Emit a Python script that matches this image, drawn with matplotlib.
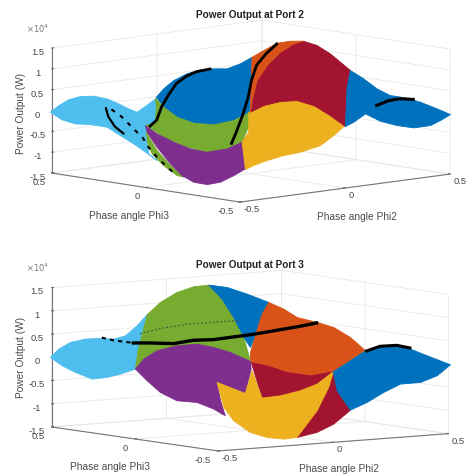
import matplotlib
matplotlib.use('Agg')
import matplotlib.pyplot as plt
from mpl_toolkits.mplot3d.art3d import Poly3DCollection

plt.rcParams['font.family'] = ['Liberation Sans', 'DejaVu Sans']

# Port 2 region outlines: phase angles Phi2 (x), Phi3 (y), power in 1e4 W (z)
askyx=[-0.504,-0.472,-0.422,-0.368,-0.304,-0.245,-0.271,-0.290,-0.296,-0.233,-0.146,-0.255,-0.328,-0.367,-0.501,-0.500,-0.501,-0.498,-0.501,-0.500,-0.499,-0.499,-0.497]
askyy=[0.506,0.497,0.501,0.499,0.499,0.494,0.403,0.329,0.277,0.304,0.342,0.216,0.143,0.152,-0.013,-0.057,-0.005,0.070,0.137,0.209,0.299,0.379,0.452]
askyz=[-0.030,0.115,0.215,0.260,0.225,0.125,0.085,0.030,-0.010,0.065,0.180,-0.035,-0.175,-0.195,-0.670,-0.800,-0.660,-0.490,-0.335,-0.185,-0.185,-0.225,-0.180]
asliverx=[-0.415,-0.500,-0.501,-0.501,-0.501,-0.501,-0.499,-0.490]
aslivery=[0.097,-0.057,-0.129,-0.200,-0.164,-0.093,-0.029,0.004]
asliverz=[-0.285,-0.560,-0.870,-1.100,-1.085,-0.895,-0.660,-0.450]
abluex=[-0.140,-0.066,0.008,0.076,0.125,0.158,0.186,0.247,0.311,-0.017,-0.098,-0.172,-0.216,-0.225,-0.194]
abluey=[0.349,0.393,0.422,0.428,0.411,0.377,0.337,0.335,0.344,-0.014,-0.015,0.008,0.065,0.144,0.250]
abluez=[0.195,0.315,0.445,0.555,0.630,0.655,0.665,0.745,0.855,-0.035,-0.140,-0.210,-0.180,-0.085,0.060]
agreenx=[-0.149,-0.194,-0.225,-0.216,-0.172,-0.098,-0.008,-0.074,-0.200,-0.277,-0.352,-0.382,-0.392,-0.378,-0.366,-0.315,-0.209]
agreeny=[0.345,0.250,0.144,0.065,0.008,-0.015,-0.001,-0.074,-0.174,-0.180,-0.157,-0.085,0.011,0.098,0.151,0.159,0.272]
agreenz=[0.180,0.060,-0.085,-0.180,-0.210,-0.140,-0.010,-0.195,-0.480,-0.585,-0.630,-0.540,-0.400,-0.270,-0.195,-0.155,0.055]
apurplex=[-0.368,-0.390,-0.392,-0.381,-0.352,-0.277,-0.200,-0.122,-0.169,-0.198,-0.344,-0.411,-0.487,-0.501,-0.500,-0.499,-0.501,-0.480,-0.412]
apurpley=[0.153,0.066,-0.025,-0.101,-0.157,-0.180,-0.174,-0.128,-0.183,-0.177,-0.352,-0.366,-0.379,-0.324,-0.252,-0.188,-0.129,-0.034,0.095]
apurplez=[-0.195,-0.320,-0.455,-0.570,-0.630,-0.585,-0.480,-0.325,-0.455,-0.480,-0.900,-1.005,-1.105,-1.190,-1.185,-1.070,-0.830,-0.510,-0.285]
ayellowx=[-0.011,0.065,0.133,0.181,0.193,0.173,0.129,0.047,-0.042,-0.124,-0.177,-0.244,-0.302,-0.348,-0.200,-0.125]
ayellowy=[0.002,0.007,-0.006,-0.040,-0.116,-0.226,-0.347,-0.385,-0.414,-0.399,-0.370,-0.355,-0.349,-0.357,-0.174,-0.125]
ayellowz=[-0.010,0.095,0.155,0.170,0.095,-0.055,-0.205,-0.340,-0.500,-0.615,-0.680,-0.765,-0.850,-0.910,-0.480,-0.325]
acrimsonx=[-0.007,0.086,0.190,0.301,0.415,0.501,0.501,0.498,0.501,0.499,0.501,0.409,0.133,0.173,0.193,0.181,0.133,0.065]
acrimsony=[-0.002,0.088,0.182,0.253,0.309,0.334,0.282,0.207,0.140,0.084,0.033,-0.052,-0.351,-0.226,-0.116,-0.040,-0.006,0.007]
acrimsonz=[-0.010,0.225,0.490,0.725,0.930,1.055,1.155,1.105,0.950,0.790,0.625,0.345,-0.205,-0.055,0.095,0.170,0.155,0.095]
aorangex=[0.311,0.379,0.459,0.498,0.501,0.501,0.415,0.301,0.190,0.086,-0.007,0.157]
aorangey=[0.344,0.358,0.376,0.349,0.282,0.334,0.309,0.253,0.182,0.088,-0.002,0.177]
aorangez=[0.855,0.960,1.070,1.110,1.155,1.055,0.930,0.725,0.490,0.225,-0.010,0.435]
arbluex=[0.501,0.500,0.496,0.492,0.499,0.500,0.498,0.500,0.454,0.405,0.327,0.247,0.245,0.270,0.181,0.133,0.409]
arbluey=[0.033,-0.039,-0.114,-0.189,-0.262,-0.340,-0.432,-0.500,-0.498,-0.500,-0.498,-0.499,-0.412,-0.305,-0.342,-0.351,-0.052]
arbluez=[0.625,0.475,0.290,0.185,0.175,0.125,0.030,-0.060,-0.175,-0.260,-0.265,-0.155,-0.110,-0.025,-0.140,-0.205,0.345]
# Port 2 black traces
atax=[-0.361,-0.300,-0.198,-0.101,-0.008,0.060,0.105,0.146]
atay=[0.133,0.166,0.254,0.326,0.387,0.409,0.407,0.381]
ataz=[-0.210,-0.130,0.060,0.225,0.400,0.515,0.590,0.645]
atbx=[-0.233,-0.155,-0.034,0.075,0.180,0.276,0.370,0.451]
atby=[-0.157,-0.096,0.003,0.098,0.198,0.278,0.331,0.367]
atbz=[-0.510,-0.325,-0.035,0.225,0.485,0.725,0.905,1.050]
atcx=[0.363,0.436,0.492,0.497]
atcy=[-0.263,-0.244,-0.243,-0.308]
atcz=[0.075,0.125,0.135,0.160]
atdx=[-0.343,-0.413,-0.479,-0.499]
atdy=[0.388,0.297,0.188,0.121]
atdz=[0.025,-0.065,-0.185,-0.285]
atex=[-0.339,-0.376,-0.423,-0.469,-0.501,-0.500,-0.499,-0.501]
atey=[0.363,0.268,0.163,0.049,-0.013,-0.057,-0.109,-0.164]
atez=[0.015,-0.070,-0.205,-0.375,-0.510,-0.720,-0.925,-1.085]

# Port 3 region outlines
bskyx=[-0.502,-0.474,-0.424,-0.356,-0.291,-0.234,-0.181,-0.133,-0.089,-0.109,-0.222,-0.357,-0.444,-0.498,-0.500,-0.498,-0.496]
bskyy=[0.507,0.495,0.495,0.498,0.498,0.497,0.500,0.496,0.497,0.499,0.369,0.197,0.167,0.173,0.260,0.362,0.445]
bskyz=[0.005,0.180,0.305,0.350,0.340,0.305,0.355,0.555,0.775,0.365,0.115,-0.140,-0.200,-0.255,-0.335,-0.245,-0.145]
bgreenx=[-0.089,-0.032,0.043,0.116,0.178,0.238,0.188,0.106,-0.001,-0.009,-0.022,-0.045,-0.098,-0.176,-0.269,-0.357,-0.222,-0.109]
bgreeny=[0.497,0.496,0.500,0.500,0.496,0.498,0.360,0.186,-0.002,0.108,0.190,0.258,0.305,0.317,0.269,0.197,0.369,0.499]
bgreenz=[0.775,1.020,1.205,1.300,1.315,0.990,0.685,0.375,-0.005,0.135,0.205,0.250,0.210,0.125,0.005,-0.140,0.115,0.365]
bbluex=[0.178,0.258,0.344,0.351,0.271,0.144,0.069,0.106,0.188,0.238]
bbluey=[0.496,0.496,0.494,0.374,0.304,0.169,0.095,0.186,0.360,0.498]
bbluez=[1.315,1.235,1.060,0.940,0.755,0.405,0.220,0.375,0.685,0.990]
borangex=[0.351,0.358,0.351,0.387,0.414,0.410,0.378,0.150,0.075,0.037,0.020,-0.001,0.044,0.144,0.271]
borangey=[0.374,0.294,0.204,0.134,0.071,-0.034,-0.169,-0.290,-0.257,-0.169,-0.072,-0.002,0.060,0.169,0.304]
borangez=[0.940,0.835,0.705,0.620,0.535,0.375,0.170,-0.135,-0.210,-0.170,-0.070,-0.005,0.140,0.405,0.755]
bpurplex=[-0.357,-0.269,-0.176,-0.098,-0.045,-0.022,-0.009,-0.001,-0.041,-0.181,-0.200,-0.282,-0.345,-0.342,-0.359,-0.411,-0.422,-0.399]
bpurpley=[0.197,0.269,0.317,0.305,0.258,0.190,0.108,-0.002,-0.061,-0.219,-0.076,-0.210,-0.325,-0.252,-0.175,-0.127,-0.042,0.069]
bpurplez=[-0.140,0.005,0.125,0.210,0.250,0.205,0.135,-0.005,-0.125,-0.515,-0.345,-0.640,-0.880,-0.775,-0.665,-0.635,-0.495,-0.310]
bcrimsonx=[-0.005,0.020,0.037,0.075,0.150,0.033,0.074,0.002,-0.073,-0.160,-0.247,-0.161]
bcrimsony=[-0.012,-0.072,-0.169,-0.257,-0.290,-0.475,-0.498,-0.497,-0.500,-0.500,-0.501,-0.292]
bcrimsonz=[-0.020,-0.070,-0.170,-0.210,-0.135,-0.405,-0.825,-1.100,-1.250,-1.325,-1.005,-0.585]
byellowx=[-0.200,-0.181,-0.044,-0.161,-0.109,-0.035,0.039,0.150,0.038,-0.071,-0.160,-0.217,-0.287,-0.360,-0.351,-0.308]
byellowy=[-0.076,-0.219,-0.070,-0.292,-0.330,-0.348,-0.346,-0.290,-0.417,-0.498,-0.500,-0.500,-0.496,-0.496,-0.384,-0.266]
byellowz=[-0.345,-0.515,-0.155,-0.585,-0.535,-0.445,-0.330,-0.135,-0.365,-0.785,-1.325,-1.340,-1.280,-1.145,-0.955,-0.745]
brbluex=[0.150,0.265,0.378,0.454,0.499,0.498,0.501,0.504,0.450,0.381,0.291,0.220,0.145,0.074,0.033]
brbluey=[-0.290,-0.234,-0.169,-0.154,-0.191,-0.273,-0.369,-0.505,-0.499,-0.495,-0.499,-0.496,-0.500,-0.498,-0.475]
brbluez=[-0.135,0.030,0.170,0.220,0.265,0.215,0.120,-0.005,-0.225,-0.345,-0.345,-0.500,-0.685,-0.825,-0.405]
# Port 3 black traces
btax=[-0.284,-0.235,-0.171]
btay=[0.497,0.496,0.464]
btaz=[0.345,0.270,0.205]
btbx=[-0.171,-0.142,-0.097,-0.034,0.018,0.082,0.146,0.227,0.313,0.381]
btby=[0.464,0.404,0.325,0.293,0.244,0.213,0.181,0.153,0.132,0.126]
btbz=[0.205,0.225,0.235,0.300,0.320,0.370,0.420,0.490,0.555,0.605]
btcx=[-0.119,-0.031,0.052,0.124,0.187]
btcy=[0.496,0.496,0.452,0.372,0.318]
btcz=[0.370,0.445,0.530,0.595,0.635]
btdx=[0.378,0.454,0.498,0.497]
btdy=[-0.178,-0.154,-0.193,-0.274]
btdz=[0.160,0.220,0.245,0.230]

phase_ticks = [-0.5, 0, 0.5]
phase_labels = ['-0.5', '0', '0.5']
power_ticks = [-1.5, -1, -0.5, 0, 0.5, 1, 1.5]
power_labels = ['-1.5', '-1', '-0.5', '0', '0.5', '1', '1.5']

BLUE, ORANGE, YELLOW, PURPLE = '#0072BD', '#D95319', '#EDB120', '#7E2F8E'
GREEN, SKY, CRIMSON = '#77AC30', '#4DBEEE', '#A2142F'
TXT = '#4a4a4a'
W, H = 469, 474

fig = plt.figure(figsize=(W / 100, H / 100), dpi=100)


def panel(left, bottom, azim, elev, aspect, zoom, regions, traces):
    ax = fig.add_axes([left / W, bottom / H, 440 / W, 440 / H], projection='3d',
                      proj_type='ortho', computed_zorder=False)
    ax.patch.set_visible(False)
    ax.view_init(elev=elev, azim=azim)
    ax.set_box_aspect(aspect, zoom=zoom)
    ax.set_xlim(-0.5, 0.5)
    ax.set_ylim(-0.5, 0.5)
    ax.set_zlim(-1.5, 1.5)
    for i, (xs, ys, zs, c) in enumerate(regions):
        poly = Poly3DCollection([list(zip(xs, ys, zs))], facecolor=c, edgecolor=c,
                                linewidth=0.6, zorder=5 + i)
        ax.add_collection3d(poly)
    for xs, ys, zs, ls, lw, col in traces:
        ax.plot(xs, ys, zs, color=col, lw=lw, ls=ls, zorder=50)
    ax.set_xticks(phase_ticks, phase_labels, ha='left')
    ax.set_yticks(phase_ticks, phase_labels, ha='right')
    ax.set_zticks(power_ticks, power_labels)
    for a in (ax.xaxis, ax.yaxis, ax.zaxis):
        a.set_pane_color((1, 1, 1, 0))
        a.pane.set_edgecolor('#e2e2e2')
        a.line.set_color('#777777')
        a.line.set_linewidth(0.8)
        a._axinfo['grid'].update(color='#e8e8e8', linewidth=0.6)
        a._axinfo['tick'].update(inward_factor=0.0, outward_factor=0.1)
    ax.tick_params(labelsize=6.8, labelcolor=TXT, colors='#666666', length=2)
    ax.tick_params(axis='x', labelsize=6.8, labelcolor=TXT, pad=-5)
    ax.tick_params(axis='y', labelsize=6.8, labelcolor=TXT, pad=-3)
    ax.tick_params(axis='z', labelsize=6.8, labelcolor=TXT, pad=-2)
    return ax


panel(25, 137, -132.9, 8.25, (286.7, 276.2, 126.3), 0.9216,
      [(askyx, askyy, askyz, SKY), (asliverx, aslivery, asliverz, GREEN),
       (abluex, abluey, abluez, BLUE), (agreenx, agreeny, agreenz, GREEN),
       (apurplex, apurpley, apurplez, PURPLE), (ayellowx, ayellowy, ayellowz, YELLOW),
       (acrimsonx, acrimsony, acrimsonz, CRIMSON), (aorangex, aorangey, aorangez, ORANGE),
       (arbluex, arbluey, arbluez, BLUE)],
      [(atax, atay, ataz, '-', 2.0, 'black'), (atbx, atby, atbz, '-', 2.0, 'black'),
       (atcx, atcy, atcz, '-', 2.2, 'black'), (atdx, atdy, atdz, '-', 1.6, 'black'),
       (atex, atey, atez, (0, (2, 3)), 1.5, 'black')])

panel(24, -112.6, -125.85, 5.97, (283.8, 284.6, 140.1), 0.939,
      [(bskyx, bskyy, bskyz, SKY), (bgreenx, bgreeny, bgreenz, GREEN),
       (bbluex, bbluey, bbluez, BLUE), (borangex, borangey, borangez, ORANGE),
       (bpurplex, bpurpley, bpurplez, PURPLE), (bcrimsonx, bcrimsony, bcrimsonz, CRIMSON),
       (byellowx, byellowy, byellowz, YELLOW), (brbluex, brbluey, brbluez, BLUE)],
      [(btax, btay, btaz, (0, (2, 2)), 1.5, 'black'), (btbx, btby, btbz, '-', 2.4, 'black'),
       (btcx, btcy, btcz, (0, (1.5, 2)), 0.8, '#444444'), (btdx, btdy, btdz, '-', 2.2, 'black')])


def label(px, py, s, **kw):
    fig.text(px / W, 1 - py / H, s, ha='center', va='center', **kw)


label(250, 15, 'Power Output at Port 2', fontsize=7.2, fontweight='bold', color='#222222')
label(250, 264.5, 'Power Output at Port 3', fontsize=7.2, fontweight='bold', color='#222222')
for py, lab in ((29, r'$\times 10^4$'), (268, r'$\times 10^4$')):
    label(38, py, lab, fontsize=6, color='#777777')
label(21, 113, 'Power Output (W)', fontsize=7.3, rotation=90, color=TXT)
label(21, 357, 'Power Output (W)', fontsize=7.3, rotation=90, color=TXT)
label(129, 216.5, 'Phase angle Phi3', fontsize=7.3, color=TXT)
label(357, 217, 'Phase angle Phi2', fontsize=7.3, color=TXT)
label(110, 467, 'Phase angle Phi3', fontsize=7.3, color=TXT)
label(339, 469, 'Phase angle Phi2', fontsize=7.3, color=TXT)

fig.savefig('out.png', dpi=100)
